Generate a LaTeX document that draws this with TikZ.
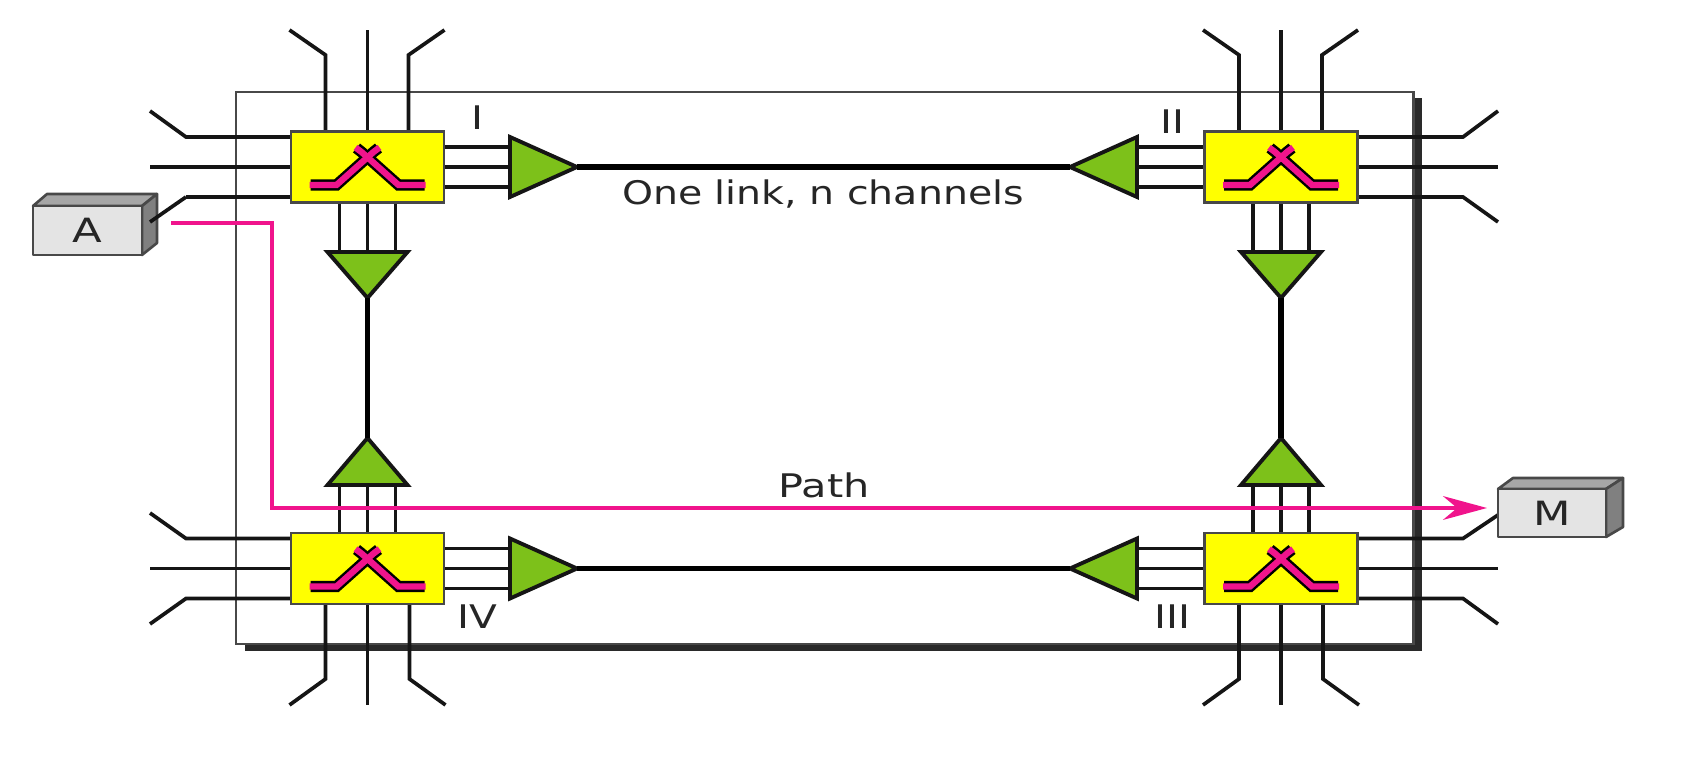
\documentclass[tikz,border=0pt]{standalone}
\usepackage{fontspec}
\setmainfont{DejaVu Sans}
\usetikzlibrary{calc,arrows.meta}
\definecolor{wirec}{HTML}{151515}
\definecolor{swfill}{HTML}{FFFF00}
\definecolor{ampfill}{HTML}{7DC11A}
\definecolor{pathc}{HTML}{F0148C}
\definecolor{frontc}{HTML}{E4E4E4}
\definecolor{topc}{HTML}{A6A6A6}
\definecolor{sidec}{HTML}{808080}
\definecolor{framec}{HTML}{484848}
\definecolor{shadowc}{HTML}{2A2A2A}
\tikzset{
  wire/.style={draw=wirec,line width=2.1pt,line join=miter},
  biglink/.style={draw=black,line width=3pt},
  swbox/.style={draw=framec,fill=swfill,line width=1.3pt,minimum width=87pt,minimum height=40.5pt,inner sep=0pt,outer sep=0pt},
  lab/.style={text=black!85,font=\fontsize{18.5}{20}\selectfont,inner sep=0pt,xscale=1.25},
  devlab/.style={text=black!85,font=\fontsize{19}{20}\selectfont},
  devpart/.style={draw=framec,line width=1.5pt,line join=round},
  pathline/.style={draw=pathc,line width=2.2pt},
  % three-channel bundle and its amplifier: args are base half width, length, channel offset, channel length
  pics/amp/.style n args={4}{code={
    \coordinate (-tip) at (#2,0);
    \draw[wire] (0,#3) -- ++(-#4,0);
    \draw[wire] (0,0) -- ++(-#4,0);
    \draw[wire] (0,-#3) -- ++(-#4,0);
    \draw[draw=wirec,fill=ampfill,line width=2.2pt,line join=miter] (0,#1) -- (-tip) -- (0,-#1) -- cycle;
  }},
  % crosspoint switch with the pink crossing symbol
  pics/crosspoint/.style={code={
    \node[swbox] (-box) at (0,0) {};
    \draw[draw=black,line width=6.4pt,line cap=square,line join=miter]
      (-57,18) -- (-31,18) -- (6,-15) -- (11,-19);
    \draw[draw=black,line width=6.4pt,line cap=square,line join=miter]
      (57,18) -- (31,18) -- (-6,-15) -- (-11,-19);
    \draw[draw=pathc,line width=3.6pt,line cap=butt,line join=miter]
      (-58,18) -- (-31,18) -- (6,-15) -- (12,-19.5);
    \draw[draw=pathc,line width=3.6pt,line cap=butt,line join=miter]
      (58,18) -- (31,18) -- (-6,-15) -- (-12,-19.5);
  }}
}
\begin{document}
\begin{tikzpicture}[x=0.02cm,y=-0.02cm]
\useasboundingbox (0,0) rectangle (1687,766);

% enclosing network frame and its drop shadow
\fill[shadowc] (245,98) rectangle (1422,651);
\draw[framec,fill=white,line width=1.7pt] (236,92) rectangle (1413,644);

% switch positions
\coordinate (cI) at (367.5,167);
\coordinate (cII) at (1281,167);
\coordinate (cIII) at (1281,568.5);
\coordinate (cIV) at (367.5,568.5);

% outward channels on the top pair
\foreach \s in {cI,cII}{
  \draw[wire] ($(\s)+(-42,-36)$) -- ($(\s)+(-42,-112)$) -- ($(\s)+(-78,-137)$);
  \draw[wire] ($(\s)+(0,-36)$) -- ($(\s)+(0,-137)$);
  \draw[wire] ($(\s)+(41,-36)$) -- ($(\s)+(41,-112)$) -- ($(\s)+(77,-137)$);
}
% outward channels on the bottom pair
\foreach \s in {cIII,cIV}{
  \draw[wire] ($(\s)+(-42,36)$) -- ($(\s)+(-42,110.5)$) -- ($(\s)+(-78,136.5)$);
  \draw[wire] ($(\s)+(0,36)$) -- ($(\s)+(0,136.5)$);
  \draw[wire] ($(\s)+(42,36)$) -- ($(\s)+(42,110.5)$) -- ($(\s)+(78,136.5)$);
}
% side channels on the left
\coordinate (aKnee) at (186,197);
\coordinate (aPort) at (150,222);
\coordinate (mPort) at (1498,515);
\draw[wire] ($(cI)+(-77,-30)$) -- (186,137) -- (150,111);
\draw[wire] ($(cI)+(-77,0)$) -- (150,167);
\draw[wire] ($(cI)+(-77,30)$) -- (aKnee);
\draw[wire] ($(cIV)+(-77,-30)$) -- (186,538.5) -- (150,513);
\draw[wire] ($(cIV)+(-77,0)$) -- (150,568.5);
\draw[wire] ($(cIV)+(-77,30)$) -- (186,598.5) -- (150,624);
% side channels on the right
\draw[wire] ($(cII)+(77,-30)$) -- (1463,137) -- (1498,111);
\draw[wire] ($(cII)+(77,0)$) -- (1498,167);
\draw[wire] ($(cII)+(77,30)$) -- (1463,197) -- (1498,222);
\draw[wire] ($(cIII)+(77,-30)$) -- (1463,538.5) -- (mPort);
\draw[wire] ($(cIII)+(77,0)$) -- (1498,568.5);
\draw[wire] ($(cIII)+(77,30)$) -- (1463,598.5) -- (1498,624);

% amplifiers with their incoming channels
\pic (hI) at (510,167) {amp={30}{67}{20}{66}};
\pic[rotate=180] (hII) at (1137,167) {amp={30}{67}{20}{66}};
\pic (hIV) at (510,568.5) {amp={30}{67}{20}{66}};
\pic[rotate=180] (hIII) at (1137,568.5) {amp={30}{67}{20}{66}};
\pic[rotate=-90] (vI) at (367.5,252) {amp={40}{46}{28}{49}};
\pic[rotate=-90] (vII) at (1281,252) {amp={40}{46}{28}{49}};
\pic[rotate=90] (vIV) at (367.5,485) {amp={40}{47}{28}{49}};
\pic[rotate=90] (vIII) at (1281,485) {amp={40}{47}{28}{49}};

% single links between amplifiers
\draw[biglink] (hI-tip) -- (hII-tip);
\draw[biglink] (hIV-tip) -- (hIII-tip);
\draw[biglink,line width=3.4pt] (vI-tip) -- (vIV-tip);
\draw[biglink,line width=3.4pt] (vII-tip) -- (vIII-tip);

% switches
\pic (sI) at (cI) {crosspoint};
\pic (sII) at (cII) {crosspoint};
\pic (sIII) at (cIII) {crosspoint};
\pic (sIV) at (cIV) {crosspoint};

% end devices
\draw[devpart,fill=topc] (33,206) -- (47,194) -- (157,194) -- (142,206) -- cycle;
\draw[devpart,fill=sidec] (142,206) -- (157,194) -- (157,243) -- (142,255) -- cycle;
\draw[devpart,fill=frontc] (33,206) rectangle (142,255);
\node[devlab,xscale=1.3] (devA) at (87.5,230.5) {A};
\draw[devpart,fill=topc] (1498,489) -- (1513,478) -- (1623,478) -- (1606,489) -- cycle;
\draw[devpart,fill=sidec] (1606,489) -- (1623,478) -- (1623,527) -- (1606,537) -- cycle;
\draw[devpart,fill=frontc] (1498,489) rectangle (1606,537);
\node[devlab,xscale=1.3] (devM) at (1552,513) {M};
\draw[wire] (aKnee) -- (aPort);

% route through the network
\coordinate (routeStart) at (171,223);
\coordinate (routeEnd) at (1487,508);
\draw[pathline,-{Stealth[length=25pt,width=13.5pt,inset=8pt]}] (routeStart) -- (272,223) -- (272,508) -- (routeEnd);

% labels
\node[lab] (lI) at (477,118) {I};
\node[lab] (lII) at (1172,122) {II};
\node[lab] (lIII) at (1172,617) {III};
\node[lab] (lIV) at (477,617) {IV};
\node[lab,xscale=0.97] (lLink) at (823,194) {One link, n channels};
\node[lab,xscale=1.02] (lPath) at (824,485) {Path};
\end{tikzpicture}
\end{document}
